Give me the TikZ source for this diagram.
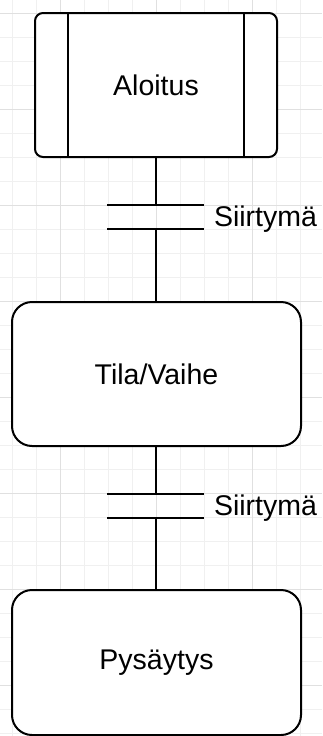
\documentclass[tikz,border=0pt]{standalone}
\usepackage{fontspec}
\setmainfont{Liberation Sans}
\usetikzlibrary{calc}

\begin{document}
\begin{tikzpicture}[x=1pt, y=-1pt, line width=2pt,
    minor/.style={line width=1pt, draw=black!6},
    major/.style={line width=1pt, draw=black!12},
    state/.style={draw=black, fill=white, rounded corners=20pt, inner sep=0pt,
        minimum width=289pt, minimum height=144pt,
        font=\fontsize{28.5}{34}\selectfont},
    startbox/.style={state, rounded corners=8pt, minimum width=242pt},
    lbl/.style={anchor=base west, inner sep=0pt, font=\fontsize{28.5}{34}\selectfont}]
    \def\bl{49}
    \def\br{48}
    \def\sd{34}

    \useasboundingbox (0,0) rectangle (322,736);
    \fill[white] (0,0) rectangle (322,736);

    % background grid
    \foreach \x in {12,36,...,320} \draw[minor] (\x,0) -- (\x,736);
    \foreach \y in {13,37,...,733} \draw[minor] (0,\y) -- (322,\y);
    \foreach \x in {60,156,252} \draw[major] (\x,0) -- (\x,736);
    \foreach \y in {13,109,...,733} \draw[major] (0,\y) -- (322,\y);

    % steps
    \node[startbox] (start) at (156,85) {Aloitus};
    \draw ($(start.north west)+(\sd,0)$) -- ($(start.south west)+(\sd,0)$);
    \draw ($(start.north east)+(-\sd,0)$) -- ($(start.south east)+(-\sd,0)$);
    \node[state] (step) at (156.5,374) {Tila/Vaihe};
    \node[state, minimum height=145pt] (stop) at (156.5,662.5) {Pysäytys};

    % transition 1
    \coordinate (t1a) at (156,205);
    \coordinate (t1b) at (156,229);
    \draw ($(t1a)+(-\bl,0)$) -- ($(t1a)+(\br,0)$);
    \draw ($(t1b)+(-\bl,0)$) -- ($(t1b)+(\br,0)$);
    \node[lbl] (s1) at (213,226) {Siirtymä};
    \draw (start.south) -- (t1a);
    \draw (t1b) -- (step.north -| t1b);

    % transition 2
    \coordinate (t2a) at (156,494);
    \coordinate (t2b) at (156,518);
    \draw ($(t2a)+(-\bl,0)$) -- ($(t2a)+(\br,0)$);
    \draw ($(t2b)+(-\bl,0)$) -- ($(t2b)+(\br,0)$);
    \node[lbl] (s2) at (213,515) {Siirtymä};
    \draw (step.south -| t2a) -- (t2a);
    \draw (t2b) -- (stop.north -| t2b);
\end{tikzpicture}
\end{document}
